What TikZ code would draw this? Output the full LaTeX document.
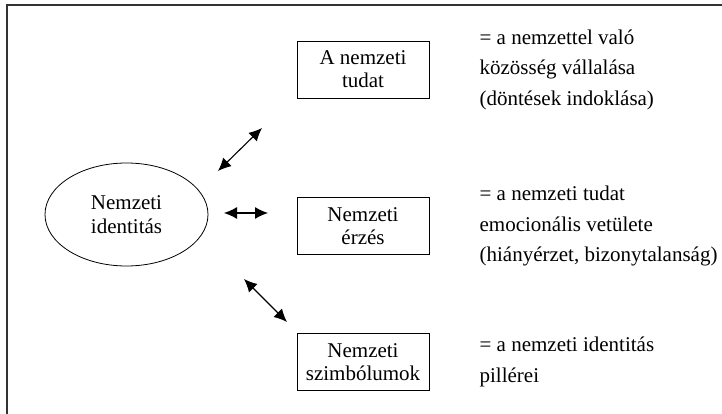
\documentclass[tikz,border=0pt]{standalone}
\usepackage{fontspec}
\setmainfont{Liberation Serif}
\usepackage{tikz}
\usetikzlibrary{arrows.meta,positioning,shapes.geometric}
\tikzset{
  frameline/.style={draw=black!80, line width=1.6pt},
  identity/.style={draw, ellipse, line width=0.8pt, align=center, inner sep=0pt,
    minimum width=163pt, minimum height=103pt, font=\fontsize{21}{24}\selectfont},
  conceptbox/.style={draw, line width=0.8pt, align=center, inner sep=0pt,
    minimum width=132pt, minimum height=57pt, font=\fontsize{21}{23}\selectfont},
  note/.style={align=left, inner sep=0pt, font=\fontsize{21}{30.5}\selectfont},
  link/.style={{Latex[length=13pt,width=12pt]}-{Latex[length=13pt,width=12pt]}, line width=1.1pt}
}
\begin{document}
\begin{tikzpicture}[x=1pt, y=-1pt]
  \useasboundingbox (0,0) rectangle (722,414);
  \draw[frameline] (7,414) -- (7,5) -- (722,5);
  % ellipse and the three boxes
  \node[identity] (ident) at (126.5,214.5) {Nemzeti\\identitás};
  \node[conceptbox] (tudat) at (363,69.5) {A nemzeti\\tudat};
  \node[conceptbox] (erzes) at (363,226) {Nemzeti\\érzés};
  \node[conceptbox] (szimb) at (363,362) {Nemzeti\\szimbólumok};
  % explanations
  \node[note, right=50pt of tudat] (tudatnote) {= a nemzettel való\\közösség vállalása\\(döntések indoklása)};
  \node[note, right=50pt of erzes] (erzesnote) {= a nemzeti tudat\\emocionális vetülete\\(hiányérzet, bizonytalanság)};
  \node[note, right=50pt of szimb] (szimbnote) {= a nemzeti identitás\\pillérei};
  % free standing arrows
  \coordinate (tudatlow) at (218,171);
  \coordinate (tudathigh) at (262,128);
  \coordinate (erzesleft) at (224,213);
  \coordinate (erzesright) at (268,213);
  \coordinate (szimbhigh) at (244,279);
  \coordinate (szimblow) at (287,322);
  \draw[link] (tudatlow) -- (tudathigh);
  \draw[link] (erzesleft) -- (erzesright);
  \draw[link] (szimbhigh) -- (szimblow);
\end{tikzpicture}
\end{document}
